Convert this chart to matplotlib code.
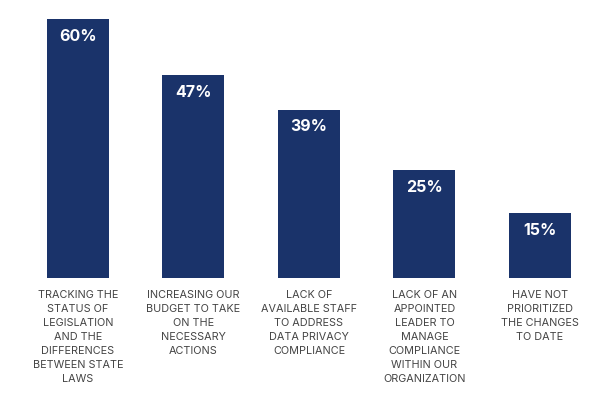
import matplotlib
matplotlib.use("Agg")
import matplotlib.pyplot as plt
from matplotlib.transforms import offset_copy

categories = [
    "TRACKING THE\nSTATUS OF\nLEGISLATION\nAND THE\nDIFFERENCES\nBETWEEN STATE\nLAWS",
    "INCREASING OUR\nBUDGET TO TAKE\nON THE\nNECESSARY\nACTIONS",
    "LACK OF\nAVAILABLE STAFF\nTO ADDRESS\nDATA PRIVACY\nCOMPLIANCE",
    "LACK OF AN\nAPPOINTED\nLEADER TO\nMANAGE\nCOMPLIANCE\nWITHIN OUR\nORGANIZATION",
    "HAVE NOT\nPRIORITIZED\nTHE CHANGES\nTO DATE",
]
values = [60, 47, 39, 25, 15]
value_labels = ["60%", "47%", "39%", "25%", "15%"]

navy = "#1a336a"
gray = "#444444"

fig = plt.figure(figsize=(6, 4.07), dpi=100)
ax = fig.add_axes([0, 0.317, 1, 0.636])
x = list(range(len(values)))
ax.bar(x, values, width=0.537, color=navy)
ax.set_xlim(-0.675, 4.52)
ax.set_ylim(0, 60)
ax.axis("off")

for xi, v, lab in zip(x, values, value_labels):
    t = offset_copy(ax.transData, fig=fig, x=0, y=-17, units="dots")
    ax.text(xi, v, lab, transform=t, ha="center", va="center",
            color="white", fontsize=11.5, fontweight="bold", family="Inter")

for xi, cat in zip(x, categories):
    t = offset_copy(ax.transData, fig=fig, x=0, y=-12, units="dots")
    ax.text(xi, 0, cat, transform=t, ha="center", va="top", color=gray,
            fontsize=7.8, family="Inter",
            linespacing=1.5, multialignment="center")

fig.savefig("out.png", dpi=100)
